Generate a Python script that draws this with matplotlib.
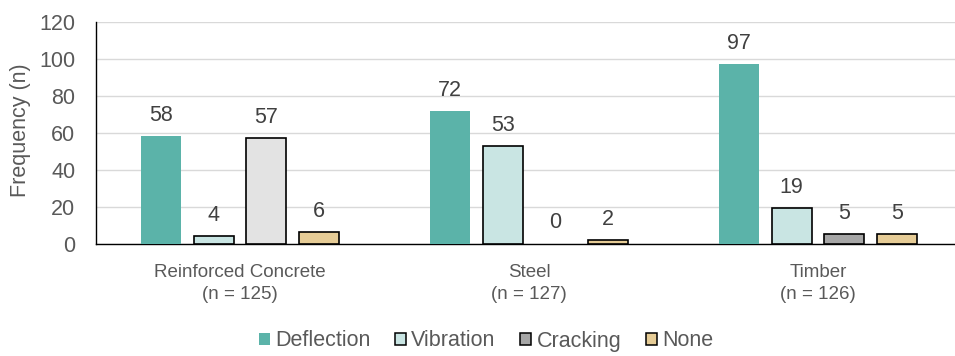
import numpy as np
import matplotlib
matplotlib.use("Agg")
import matplotlib.pyplot as plt
from matplotlib.patches import Patch

plt.rcParams['font.family'] = ['Liberation Sans', 'DejaVu Sans']

categories = ['Reinforced Concrete\n(n = 125)', 'Steel\n(n = 127)', 'Timber\n(n = 126)']
series = ['Deflection', 'Vibration', 'Cracking', 'None']
deflection = [58, 72, 97]
vibration = [4, 53, 19]
cracking = [57, 0, 5]
none = [6, 2, 5]

values = [deflection, vibration, cracking, none]
# one colour per bar, so each group can be shaded on its own
bar_colors = [
    ['#5bb3a9'] * 3,
    ['#c9e5e3'] * 3,
    ['#e3e3e3', '#a6a6a6', '#a6a6a6'],
    ['#e6cc96'] * 3,
]
legend_colors = ['#5bb3a9', '#c9e5e3', '#a6a6a6', '#e6cc96']
edges = [None, 'black', 'black', 'black']

fs = 15.5
txt = '#595959'

fig = plt.figure(figsize=(9.55, 3.56), dpi=100)
ax = fig.add_axes([95.5 / 955, (356 - 243.5) / 356, 867 / 955, 221.5 / 356])

x = np.arange(len(categories))
step = 0.1817
width = 0.138
for i, vals in enumerate(values):
    pos = x + (i - 1.5) * step
    for p, v, c in zip(pos, vals, bar_colors[i]):
        lw = 1.2 if (edges[i] and v > 0) else 0
        ax.bar(p, v, width=width, color=c, edgecolor=edges[i] or c,
               linewidth=lw, zorder=3)
        ax.annotate(str(v), (p, v), xytext=(0, 10.8), textcoords='offset points',
                    ha='center', va='baseline', fontsize=fs, color='#404040')

ax.set_xlim(-0.5, 2.5)
ax.set_ylim(0, 120)
ax.set_yticks(range(0, 121, 20))
ax.yaxis.grid(True, color='#d9d9d9', linewidth=1.0, zorder=0)
ax.set_axisbelow(True)

for s in ['top', 'right']:
    ax.spines[s].set_visible(False)
ax.spines['left'].set_linewidth(1.0)
ax.spines['bottom'].set_linewidth(1.0)

ax.tick_params(axis='y', length=0, pad=14.5, labelsize=fs, labelcolor=txt)
ax.tick_params(axis='x', length=0, pad=14.5)
ax.set_xticks(x)
ax.set_xticklabels(categories, fontsize=13.5, color=txt, linespacing=1.38)

ax.set_ylabel('Frequency (n)', fontsize=fs, color=txt)
ax.yaxis.label.set_va('center')
ax.yaxis.set_label_coords(-75 / 867, 0.51)

handles = [Patch(facecolor=c, edgecolor=e if e else c, linewidth=1.1 if e else 0)
           for c, e in zip(legend_colors, edges)]
fig.legend(handles, series, loc='center', bbox_to_anchor=(486 / 955, 1 - 341 / 356),
           ncol=4, frameon=False, fontsize=fs, labelcolor=txt,
           handlelength=0.5, handleheight=0.5, handletextpad=0.25,
           columnspacing=1.15, borderaxespad=0)

fig.savefig('out.png', dpi=100)
